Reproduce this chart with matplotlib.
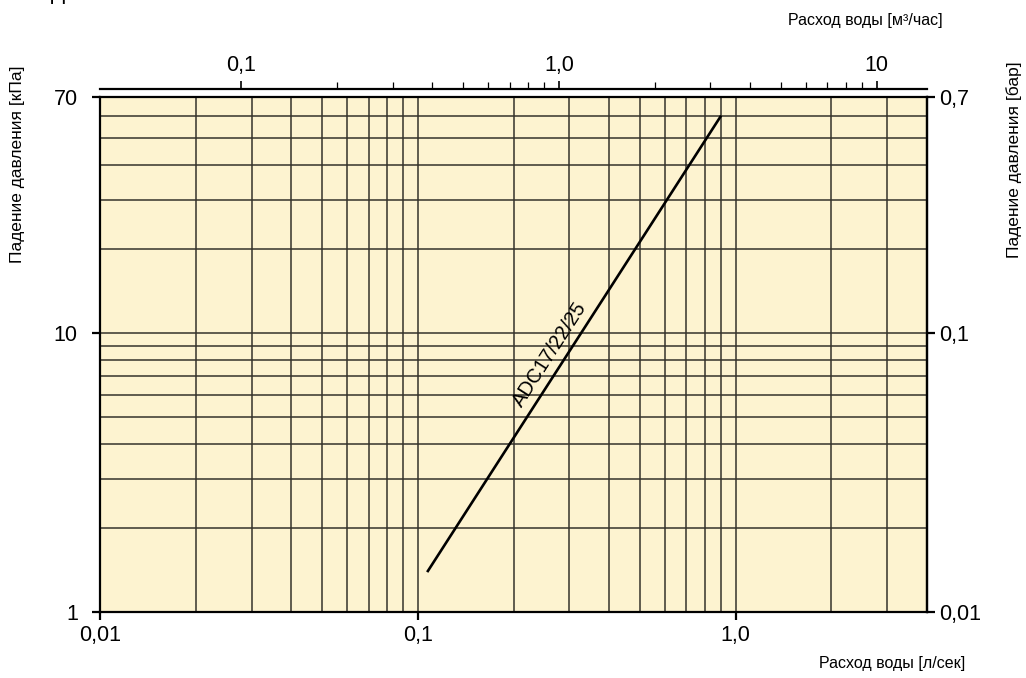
import numpy as np
import matplotlib
matplotlib.use("Agg")
import matplotlib.pyplot as plt
from matplotlib.ticker import FixedLocator, NullFormatter, NullLocator

plt.rcParams['font.family'] = ['Liberation Sans', 'DejaVu Sans']

# данные кривой (л/сек -> кПа)
flow_ls = [0.107, 0.90]
dp_kpa = [1.39, 60.0]
curve_name = 'ADC17/22/25'

# оси
x_lim = [0.01, 4.0]
y_lim = [1, 70]
x_major = [0.01, 0.1, 1.0]
x_major_labels = ['0,01', '0,1', '1,0']
x_grid = [0.02, 0.03, 0.04, 0.05, 0.06, 0.07, 0.08, 0.09,
          0.2, 0.3, 0.4, 0.5, 0.6, 0.7, 0.8, 0.9, 2, 3]
y_major = [1, 10, 70]
y_major_labels = ['1', '10', '70']
y_grid = [2, 3, 4, 5, 6, 7, 8, 9, 20, 30, 40, 50, 60]

top_major = [0.1, 1, 10]
top_major_labels = ['0,1', '1,0', '10']
top_minor = [0.2, 0.3, 0.4, 0.5, 0.6, 0.7, 0.8, 0.9, 2, 3, 4, 5, 6, 7, 8, 9]
right_major = [0.01, 0.1, 0.7]
right_major_labels = ['0,01', '0,1', '0,7']

bg = '#fdf3d0'
grid_col = '#35322b'

fig = plt.figure(figsize=(10.26, 6.78), dpi=100)
ax = fig.add_axes([0.0975, 0.0973, 0.806, 0.7597])
ax.set_facecolor(bg)
ax.set_xscale('log')
ax.set_yscale('log')
ax.set_xlim(x_lim)
ax.set_ylim(y_lim)

ax.set_xticks(x_major, labels=x_major_labels)
ax.set_yticks(y_major, labels=y_major_labels)
ax.xaxis.set_minor_locator(FixedLocator(x_grid))
ax.yaxis.set_minor_locator(FixedLocator(y_grid))
ax.xaxis.set_minor_formatter(NullFormatter())
ax.yaxis.set_minor_formatter(NullFormatter())
ax.tick_params(which='major', direction='out', length=6, width=1.6, labelsize=15.5)
ax.tick_params(axis='x', which='major', pad=3)
ax.tick_params(axis='y', which='major', pad=10)
ax.tick_params(which='minor', length=0)
ax.grid(True, which='both', color=grid_col, lw=1.1)
ax.set_axisbelow(True)
for s in ax.spines.values():
    s.set_linewidth(1.6)

# кривая
ax.plot(flow_ls, dp_kpa, color='black', lw=1.9, solid_capstyle='butt')

# подпись кривой вдоль линии, чуть выше неё
p0 = ax.transData.transform((flow_ls[0], dp_kpa[0]))
p1 = ax.transData.transform((flow_ls[1], dp_kpa[1]))
ang = np.arctan2(p1[1] - p0[1], p1[0] - p0[0])
t = 0.46
xa = 10 ** (np.log10(flow_ls[0]) + t * (np.log10(flow_ls[1]) - np.log10(flow_ls[0])))
ya = 10 ** (np.log10(dp_kpa[0]) + t * (np.log10(dp_kpa[1]) - np.log10(dp_kpa[0])))
off = 4.0
ax.annotate(curve_name, xy=(xa, ya), xytext=(-off * np.sin(ang), off * np.cos(ang)),
            textcoords='offset points', rotation=np.degrees(ang), rotation_mode='anchor',
            ha='center', va='bottom', fontsize=14.5)

# верхняя ось: м3/час
top = ax.secondary_xaxis('top', functions=(lambda q: q * 3.6, lambda q: q / 3.6))
top.spines['top'].set_position(('outward', 6))
top.spines['top'].set_linewidth(1.6)
top.set_xticks(top_major, labels=top_major_labels)
top.xaxis.set_minor_locator(FixedLocator(top_minor))
top.xaxis.set_minor_formatter(NullFormatter())
top.tick_params(which='major', length=6, width=1.2, labelsize=15.5, pad=3)
top.tick_params(which='minor', length=5, width=0.9)

# правая ось: бар
right = ax.secondary_yaxis('right', functions=(lambda p: p / 100, lambda b: b * 100))
right.set_yticks(right_major, labels=right_major_labels)
right.yaxis.set_minor_locator(NullLocator())
right.tick_params(which='major', length=6, width=1.6, labelsize=15.5, pad=3)
right.spines['right'].set_linewidth(1.6)

fig.text(0.919, 0.9705, 'Расход воды [м³/час]', ha='right', va='center', fontsize=11.5)
fig.text(0.9405, 0.022, 'Расход воды [л/сек]', ha='right', va='center', fontsize=11.5)
fig.text(0.0166, 0.758, 'Падение давления [кПа]', rotation=90, ha='center', va='center', fontsize=12.5)
fig.text(0.988, 0.765, 'Падение давления [бар]', rotation=90, ha='center', va='center', fontsize=12.5)
fig.text(0.05, 1.0, 'Д', fontsize=15, va='baseline')

fig.savefig('out.png', dpi=100)
